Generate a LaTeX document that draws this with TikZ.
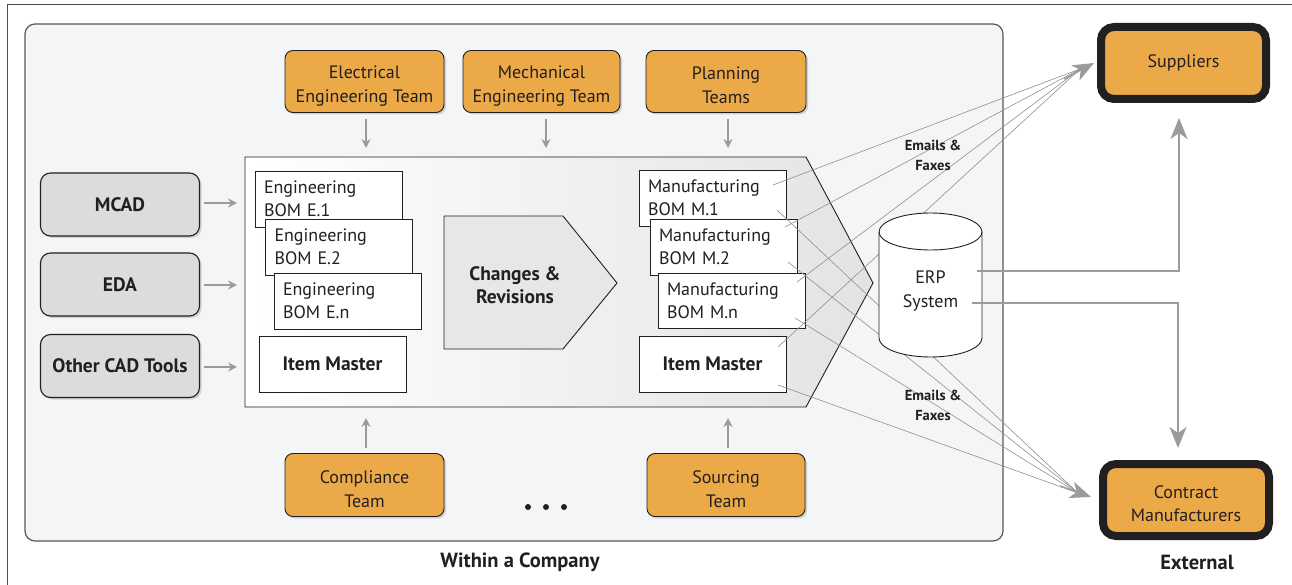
\documentclass[tikz,border=0pt]{standalone}
\usepackage{fontspec}
\setmainfont{PT Sans}
\usetikzlibrary{arrows.meta,shadows,calc}
\definecolor{orng}{HTML}{ECA948}
\definecolor{gbox}{HTML}{DCDCDC}
\definecolor{panelc}{HTML}{F4F5F7}
\definecolor{arrg}{HTML}{9A9B9D}
\definecolor{lineg}{HTML}{8E8F91}
\definecolor{txt}{HTML}{231F20}
\definecolor{chgc}{HTML}{E6E7E8}
\definecolor{contr}{HTML}{E2E3E4}
\newcommand{\tpush}{\rule{0pt}{21pt}}
\begin{document}
\begin{tikzpicture}[x=1pt,y=-1pt,
  every node/.style={text=txt},
  team/.style={draw=txt, line width=0.9pt, fill=orng, rounded corners=8pt,
    minimum width=158pt, minimum height=62pt, align=center, inner sep=1pt,
    font=\fontsize{18}{24}\selectfont,
    drop shadow={shadow xshift=2pt,shadow yshift=-2pt,opacity=0.3}},
  tool/.style={draw=txt, line width=1.1pt, fill=gbox, rounded corners=10pt,
    minimum width=159pt, minimum height=63pt, align=center,
    font=\fontsize{19.5}{22}\selectfont\bfseries,
    drop shadow={shadow xshift=2pt,shadow yshift=-2pt,opacity=0.3}},
  bom/.style={draw=txt, line width=0.9pt, fill=white, minimum width=147pt,
    minimum height=56pt, text width=129pt, inner xsep=9pt, inner ysep=0pt,
    align=left, font=\fontsize{18}{23}\selectfont},
  master/.style={draw=txt, line width=0.9pt, fill=white, minimum width=147pt,
    minimum height=56pt, font=\fontsize{19.5}{22}\selectfont\bfseries},
  ext/.style={draw=txt, line width=8pt, fill=orng, rounded corners=13pt,
    minimum width=165pt, minimum height=72pt, align=center, inner sep=1pt,
    font=\fontsize{18}{23}\selectfont},
  smallarr/.style={draw=arrg, line width=1.6pt, -{Stealth[length=9pt,width=9pt,inset=3pt]}},
  bigarr/.style={draw=arrg, line width=1.5pt, -{Stealth[length=21pt,width=17pt,inset=6pt]}},
  mail/.style={draw=lineg, line width=0.6pt},
  lbl/.style={font=\fontsize{14.5}{20}\selectfont\bfseries, align=center},
  caption/.style={font=\fontsize{20.5}{24}\selectfont\bfseries}
]
\useasboundingbox (0,0) rectangle (1292,585);
\fill[white] (0,0) rectangle (1292,585);
% outer frame
\draw[line width=1pt, draw=txt!80] (7,585) -- (7,5) -- (1292,5);
% inner panel
\draw[line width=1.2pt, draw=txt!75, fill=panelc, rounded corners=10pt] (25,24) rectangle (1003,541);

% container
\draw[line width=0.9pt, draw=txt, left color=white, right color=contr]
  (245,157) -- (806,157) -- (873,283) -- (806,407) -- (245,407) -- cycle;
\coordinate (ctop1) at (366,157);
\coordinate (ctop2) at (546,157);
\coordinate (ctop3) at (728,157);
\coordinate (cbot1) at (366,407);
\coordinate (cbot3) at (728,407);
\coordinate (cleft1) at (245,203);
\coordinate (cleft2) at (245,285);
\coordinate (cleft3) at (245,367);

% team boxes
\node[team, minimum width=159pt] (elec) at (364.5,81.5) {\tpush Electrical\\Engineering Team};
\node[team, minimum width=157pt] (mech) at (541.5,81.5) {\tpush Mechanical\\Engineering Team};
\node[team, minimum width=160pt] (plan) at (726,81.5) {\tpush Planning\\Teams};
\node[team, minimum width=159pt, minimum height=63pt] (comp) at (364.5,485) {\tpush Compliance\\Team};
\node[team, minimum width=158pt, minimum height=63pt] (sourc) at (726,485) {\tpush Sourcing\\Team};

% tool boxes
\node[tool] (mcad) at (120,204.5) {MCAD};
\node[tool] (eda) at (120,284.5) {EDA};
\node[tool] (other) at (120,366) {Other CAD Tools};

% small arrows
\draw[smallarr, shorten <=6pt, shorten >=9pt] (elec.south -| ctop1) -- (ctop1);
\draw[smallarr, shorten <=6pt, shorten >=9pt] (mech.south -| ctop2) -- (ctop2);
\draw[smallarr, shorten <=6pt, shorten >=9pt] (plan.south -| ctop3) -- (ctop3);
\draw[smallarr, shorten <=5pt, shorten >=11pt] (comp.north -| cbot1) -- (cbot1);
\draw[smallarr, shorten <=5pt, shorten >=11pt] (sourc.north -| cbot3) -- (cbot3);
\draw[smallarr, shorten <=4pt, shorten >=8pt] (mcad.east |- cleft1) -- (cleft1);
\draw[smallarr, shorten <=4pt, shorten >=8pt] (eda.east |- cleft2) -- (cleft2);
\draw[smallarr, shorten <=4pt, shorten >=8pt] (other.east |- cleft3) -- (cleft3);

% engineering BOMs
\node[bom] (e1) at (328.5,199) {Engineering\\BOM E.1};
\node[bom] (e2) at (339,247) {Engineering\\BOM E.2};
\node[bom] (en) at (347.5,301) {Engineering\\BOM E.n};
\node[master] (iml) at (332.5,364) {Item Master};

% changes
\draw[line width=0.9pt, draw=txt, fill=chgc]
  (444,216) -- (563,216) -- (617,283) -- (563,349) -- (444,349) -- cycle;
\node[font=\fontsize{19.5}{23}\selectfont\bfseries, align=center] (chg) at (515,285) {Changes \&\\Revisions};

% manufacturing BOMs
\node[bom] (m1) at (712.5,198) {Manufacturing\\BOM M.1};
\node[bom] (m2) at (723.5,247) {Manufacturing\\BOM M.2};
\node[bom, minimum height=55pt] (mn) at (731.5,300.5) {Manufacturing\\BOM M.n};
\node[master] (imr) at (712.5,364) {Item Master};

% external boxes
\node[ext] (sup) at (1183.5,63) {Suppliers};
\node[ext, minimum width=166pt] (cm) at (1186,500) {\tpush Contract\\Manufacturers};

% mail lines
\coordinate (sconv) at (1080,69);
\coordinate (cconv) at (1078,493);
\coordinate (s1) at (773,185);
\coordinate (s2) at (785,227);
\coordinate (s3) at (797,282);
\coordinate (s4) at (778,347);
\coordinate (c1) at (777,210);
\coordinate (c2) at (788,262);
\coordinate (c3) at (795,318);
\coordinate (c4) at (778,385);
\foreach \p in {s1,s2,s3,s4} \draw[mail] (\p) -- (sconv);
\foreach \p in {c1,c2,c3,c4} \draw[mail] (\p) -- (cconv);
\draw[bigarr] (1064,79) -- (1094,63);
\draw[bigarr] (1060,486) -- (1091,497);

% ERP cylinder
\filldraw[draw=txt, fill=white, line width=0.9pt]
  (879,232) -- (879,338) arc[start angle=180,end angle=360,x radius=51.5pt,y radius=19pt]
  -- (982,232) arc[start angle=0,end angle=180,x radius=51.5pt,y radius=19pt] -- cycle;
\draw[draw=txt, line width=0.9pt] (879,232) arc[start angle=180,end angle=360,x radius=51.5pt,y radius=18pt];
\node[font=\fontsize{18}{24}\selectfont, align=center] (erp) at (930.5,291) {ERP\\System};
\coordinate (erpS) at (977,271);
\coordinate (erpC) at (972,303);
\draw[bigarr] (erpS) -| ($(sup.south)+(-4.5,15)$);
\draw[bigarr] (erpC) -| ($(cm.north)+(-8,-12)$);

% labels
\node[lbl] (lb1) at (933,155) {Emails \&\\Faxes};
\node[lbl] (lb2) at (933,405) {Emails \&\\Faxes};

% dots
\foreach \x in {528,546,564} \fill[txt] (\x,507) circle[radius=3pt];

% captions
\node[caption] (within) at (520,562) {Within a Company};
\node[caption] (external) at (1197,562) {External};
\end{tikzpicture}
\end{document}
